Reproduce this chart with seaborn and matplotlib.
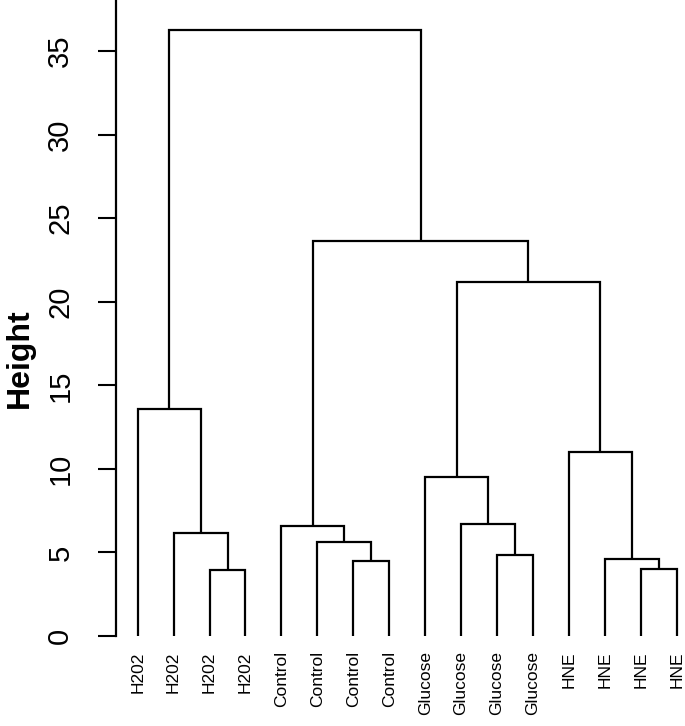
import numpy as np
import matplotlib
matplotlib.use('Agg')
import matplotlib.pyplot as plt
import seaborn as sns

# leaf labels, in dendrogram order
labels = ['H202', 'H202', 'H202', 'H202',
          'Control', 'Control', 'Control', 'Control',
          'Glucose', 'Glucose', 'Glucose', 'Glucose',
          'HNE', 'HNE', 'HNE', 'HNE']

# R style merge table: negative = leaf number, positive = earlier merge step
merge_left = [-3, -2, -1, -7, -6, -5, -11, -10, -9, -15, -14, -13, 9, 6, 3]
merge_right = [-4, 1, 2, -8, 4, 5, -12, 7, 8, -16, 10, 11, 12, 13, 14]
merge_height = [3.95, 6.16, 13.58, 4.5, 5.64, 6.6, 4.87, 6.7, 9.5,
                4.03, 4.63, 11.03, 21.18, 23.64, 36.26]

sns.set_style('ticks', {'text.color': 'black', 'axes.labelcolor': 'black',
                        'xtick.color': 'black', 'ytick.color': 'black',
                        'axes.edgecolor': 'black'})
plt.rcParams['font.family'] = ['Liberation Sans', 'DejaVu Sans']

fig = plt.figure(figsize=(6.85, 7.26), dpi=100)
ax = fig.add_axes([0.1693, 0.124, 0.8307, 0.876])

node_x = {}
node_y = {}


def child_pos(c):
    if c < 0:
        return float(-c), 0.0
    return node_x[c], node_y[c]


for step, (l, r, h) in enumerate(zip(merge_left, merge_right, merge_height), start=1):
    xl, yl = child_pos(l)
    xr, yr = child_pos(r)
    ax.plot([xl, xl, xr, xr], [yl, h, h, yr], color='black', lw=1.6,
            solid_capstyle='butt', solid_joinstyle='miter')
    node_x[step] = (xl + xr) / 2
    node_y[step] = h

ax.set_xlim(0.396, 16.23)
ax.set_ylim(0, 38.06)

ax.set_xticks(np.arange(1, len(labels) + 1))
ax.set_xticklabels(labels, rotation=90, fontsize=12.5, va='top', ha='center',
                   color='black')
ax.tick_params(axis='x', length=0, pad=11)

ax.set_yticks(np.arange(0, 36, 5))
ax.tick_params(axis='y', length=13, width=1.5, direction='out', pad=17,
               labelsize=21, color='black', labelcolor='black')
plt.setp(ax.get_yticklabels(), rotation=90, va='center')
ax.set_ylabel('Height', fontsize=23, fontweight='bold', color='black')
ax.yaxis.set_label_coords(-0.142, 0.437)

sns.despine(ax=ax, bottom=True)
ax.spines['left'].set_linewidth(1.6)
ax.spines['left'].set_color('black')

fig.savefig('out.png', dpi=100)
